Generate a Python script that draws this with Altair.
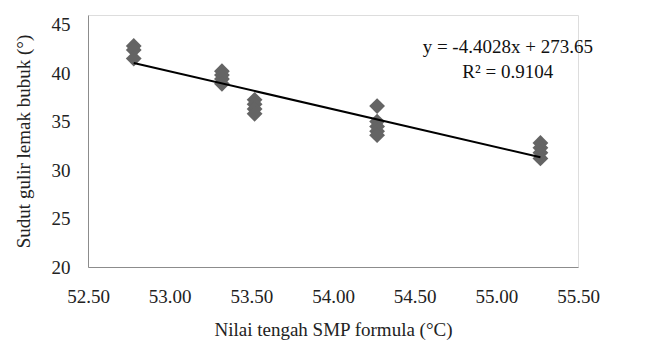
import altair as alt
import pandas as pd

# Data
x_vals = [52.78, 52.78, 52.78,
          53.32, 53.32, 53.32, 53.32,
          53.52, 53.52, 53.52, 53.52,
          54.27, 54.27, 54.27, 54.27, 54.27,
          55.27, 55.27, 55.27, 55.27]
y_vals = [42.8, 42.4, 41.5,
          40.2, 39.8, 39.4, 38.9,
          37.25, 36.8, 36.3, 35.8,
          36.6, 35.0, 34.5, 34.0, 33.6,
          32.8, 32.3, 31.8, 31.2]

eq_text = ["y = -4.4028x + 273.65", "R² = 0.9104"]
eq_x = [55.07, 55.07]
eq_y = [42.7, 40.1]

x_ticks = [52.5, 53.0, 53.5, 54.0, 54.5, 55.0, 55.5]
y_ticks = [20, 25, 30, 35, 40, 45]

df = pd.DataFrame({"x": x_vals, "y": y_vals})
ann = pd.DataFrame({"t": eq_text, "x": eq_x, "y": eq_y})

FONT = "Liberation Serif, DejaVu Serif, serif"

xs = alt.Scale(domain=[52.5, 55.5], nice=False, zero=False)
ys = alt.Scale(domain=[20, 46], nice=False, zero=False)

xenc = alt.X("x:Q", scale=xs, title="Nilai tengah SMP formula (°C)",
             axis=alt.Axis(values=x_ticks, format=".2f", grid=False, ticks=False,
                           domainColor="#8c8c8c", labelPadding=20,
                           labelFontSize=19, titleFontSize=19,
                           labelFont=FONT, titleFont=FONT, labelColor="#222",
                           titleColor="#222", titleFontWeight="normal",
                           titlePadding=14, labelFlush=False))
yenc = alt.Y("y:Q", scale=ys, title="Sudut gulir lemak bubuk (°)",
             axis=alt.Axis(values=y_ticks, grid=False, ticks=False,
                           domainColor="#8c8c8c", labelPadding=18,
                           labelFontSize=19, titleFontSize=19,
                           labelFont=FONT, titleFont=FONT, labelColor="#222",
                           titleColor="#222", titleFontWeight="normal",
                           titlePadding=18))

pts = alt.Chart(df).mark_point(shape="diamond", filled=True, color="#646464",
                               size=250, opacity=1).encode(x=xenc, y=yenc)

trend = alt.Chart(df).transform_regression("x", "y").mark_line(
    color="black", strokeWidth=2).encode(x=alt.X("x:Q", scale=xs), y=alt.Y("y:Q", scale=ys))

txt = alt.Chart(ann).mark_text(font=FONT, fontSize=19, color="#111",
                               align="center", baseline="middle").encode(
    x=alt.X("x:Q", scale=xs), y=alt.Y("y:Q", scale=ys), text="t:N")

chart = alt.layer(pts, trend, txt).properties(
    width=490, height=252,
    padding={"left": 80, "top": 7, "right": 60, "bottom": 73},
    autosize=alt.AutoSizeParams(type="none"),
).configure_view(stroke=None).configure(background="white")

chart.save("out.html", embed_options={"renderer": "svg", "actions": False})
